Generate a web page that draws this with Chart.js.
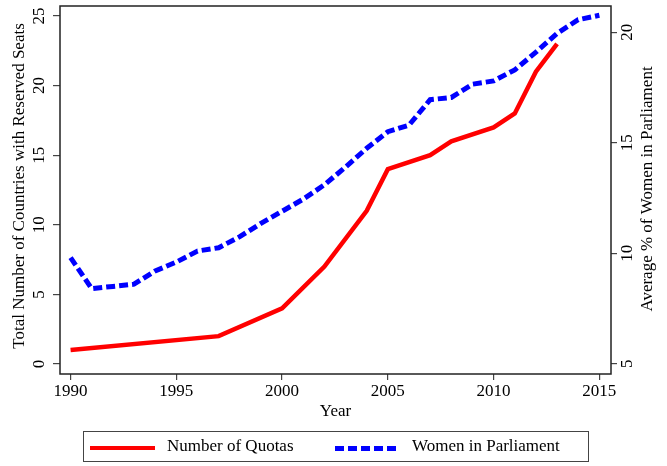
<!DOCTYPE html>
<html>
<head>
<meta charset="utf-8">
<script src="https://cdn.jsdelivr.net/npm/chart.js@4"></script>
<style>
  body { margin: 0; background: #fff; }
  #wrap { position: relative; width: 667px; height: 466px; }
  #legend { position: absolute; left: 83px; top: 431px; width: 506px; height: 31px;
    border: 1px solid #444; box-sizing: border-box; font-family: "Liberation Serif", serif; font-size: 17px; color: #000; }
  #legend span { position: absolute; }
  .redline { left: 6px; top: 14px; width: 65px; height: 4px; background: #ff0000; }
  .blueline { left: 251px; top: 14px; width: 62px; height: 5px;
    background: repeating-linear-gradient(to right, #0000ff 0 9px, transparent 9px 13px); }
</style>
</head>
<body>
<div id="wrap">
  <canvas id="myChart" width="667" height="466"></canvas>
  <div id="legend">
    <span class="redline"></span><span style="left:83px; top:4px;">Number of Quotas</span>
    <span class="blueline"></span><span style="left:328px; top:4px;">Women in Parliament</span>
  </div>
</div>
<script>
// data
const quotaYears = [1990, 1997, 2000, 2002, 2004, 2005, 2007, 2008, 2010, 2011, 2012, 2013]
const quotaCounts = [1, 2, 4, 7, 11, 14, 15, 16, 17, 18, 21, 23]

const womenYears = [1990, 1991, 1992, 1993, 1994, 1995, 1996, 1997, 1998, 1999, 2000, 2001, 2002,
  2003, 2004, 2005, 2006, 2007, 2008, 2009, 2010, 2011, 2012, 2013, 2014, 2015]
const womenPct = [9.8, 8.4, 8.5, 8.6, 9.2, 9.6, 10.1, 10.25, 10.75, 11.35, 11.9, 12.45, 13.1,
  13.9, 14.75, 15.5, 15.8, 16.95, 17.05, 17.65, 17.8, 18.3, 19.1, 19.95, 20.57, 20.77]

const xTicks = [1990, 1995, 2000, 2005, 2010, 2015]
const leftTicks = [0, 5, 10, 15, 20, 25]
const rightTicks = [5, 10, 15, 20]

const serif = '"Liberation Serif", "Times New Roman", serif'

// stata style frame, rotated tick labels and axis titles
const stataBits = {
  id: 'stataBits',
  afterDraw(chart) {
    const c = chart.ctx
    const a = chart.chartArea
    c.save()
    c.strokeStyle = '#222'
    c.lineWidth = 1.5
    c.strokeRect(a.left, a.top, a.right - a.left, a.bottom - a.top)

    c.fillStyle = '#000'
    c.font = '17px ' + serif
    c.textAlign = 'center'
    c.textBaseline = 'middle'

    const yL = chart.scales.y
    leftTicks.forEach((v) => {
      c.save()
      c.translate(40, yL.getPixelForValue(v))
      c.rotate(-Math.PI / 2)
      c.fillText(String(v), 0, 0)
      c.restore()
    })
    const yR = chart.scales.y2
    rightTicks.forEach((v) => {
      c.save()
      c.translate(628, yR.getPixelForValue(v))
      c.rotate(-Math.PI / 2)
      c.fillText(String(v), 0, 0)
      c.restore()
    })

    c.save()
    c.translate(20, 186)
    c.rotate(-Math.PI / 2)
    c.fillText('Total Number of Countries with Reserved Seats', 0, 0)
    c.restore()

    c.save()
    c.translate(648, 189)
    c.rotate(-Math.PI / 2)
    c.fillText('Average % of Women in Parliament', 0, 0)
    c.restore()
    c.restore()
  }
}

const ctx = document.getElementById('myChart')

new Chart(ctx, {
  type: 'line',
  data: {
    datasets: [{
      label: 'Number of Quotas',
      data: quotaYears.map((yr, i) => ({ x: yr, y: quotaCounts[i] })),
      borderColor: '#ff0000',
      borderWidth: 4.5,
      pointRadius: 0,
      yAxisID: 'y'
    }, {
      label: 'Women in Parliament',
      data: womenYears.map((yr, i) => ({ x: yr, y: womenPct[i] })),
      borderColor: '#0000ff',
      borderWidth: 5,
      borderDash: [9, 4],
      pointRadius: 0,
      yAxisID: 'y2'
    }]
  },
  options: {
    responsive: false,
    animation: false,
    layout: { padding: { top: 6, left: 0, right: 0, bottom: 0 } },
    plugins: { legend: { display: false }, tooltip: { enabled: false } },
    scales: {
      x: {
        type: 'linear',
        min: 1989.5,
        max: 2015.55,
        afterBuildTicks: (s) => { s.ticks = xTicks.map((v) => ({ value: v })) },
        afterFit: (s) => { s.height = 92 },
        grid: { drawOnChartArea: false, tickLength: 6, color: '#444', lineWidth: 1.2 },
        border: { display: false },
        ticks: { color: '#000', font: { family: serif, size: 17 }, padding: 1, maxRotation: 0,
          callback: (v) => String(v) },
        title: { display: true, text: 'Year', color: '#000', font: { family: serif, size: 17 },
          padding: { top: 0, bottom: 44 } }
      },
      y: {
        position: 'left',
        min: -0.72,
        max: 25.72,
        afterBuildTicks: (s) => { s.ticks = leftTicks.map((v) => ({ value: v })) },
        afterFit: (s) => { s.width = 60 },
        grid: { drawOnChartArea: false, tickLength: 7, color: '#444', lineWidth: 1.2 },
        border: { display: false },
        ticks: { display: false }
      },
      y2: {
        position: 'right',
        min: 4.535,
        max: 21.19,
        afterBuildTicks: (s) => { s.ticks = rightTicks.map((v) => ({ value: v })) },
        afterFit: (s) => { s.width = 56 },
        grid: { drawOnChartArea: false, tickLength: 6, color: '#444', lineWidth: 1.2 },
        border: { display: false },
        ticks: { display: false }
      }
    }
  },
  plugins: [stataBits]
})
</script>
</body>
</html>
